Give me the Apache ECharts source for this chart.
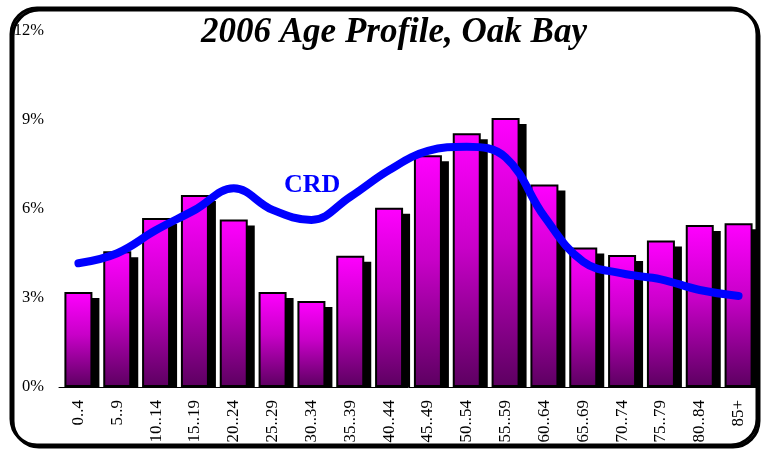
<!DOCTYPE html>
<html>
<head>
<meta charset="utf-8">
<script src="https://cdn.jsdelivr.net/npm/echarts@6/dist/echarts.min.js"></script>
<style>
  html, body { margin: 0; padding: 0; background: #fff; }
</style>
</head>
<body>
<div id="main" style="width:763px;height:451px;"></div>
<script type="text/javascript">
  // data
  var ages = ['0..4', '5..9', '10..14', '15..19', '20..24', '25..29', '30..34', '35..39', '40..44',
              '45..49', '50..54', '55..59', '60..64', '65..69', '70..74', '75..79', '80..84', '85+'];
  var oakBay = [3.20, 4.58, 5.70, 6.47, 5.65, 3.20, 2.90, 4.42, 6.04,
                7.81, 8.55, 9.07, 6.83, 4.70, 4.45, 4.94, 5.46, 5.52];
  var crd = [4.17, 4.51, 5.29, 5.97, 6.70, 5.97, 5.63, 6.41, 7.31,
             7.96, 8.10, 7.74, 5.74, 4.22, 3.83, 3.63, 3.27, 3.07];
  var yTicks = [0, 3, 6, 9, 12];

  var serif = '"Liberation Serif", "DejaVu Serif", serif';

  var myChart = echarts.init(document.getElementById('main'));

  // black drop shadow behind each bar
  function drawShadow(params, api) {
    var top = api.coord([api.value(0), api.value(1)]);
    var base = api.coord([api.value(0), 0]);
    var w = 30;
    return {
      type: 'rect',
      shape: { x: top[0] - w / 2 + 6, y: top[1] + 6, width: w, height: base[1] - top[1] - 6 },
      style: { fill: '#000' }
    };
  }

  var option = {
    animation: false,
    backgroundColor: '#fff',
    title: {
      text: '2006 Age Profile, Oak Bay',
      left: 196,
      top: 10,
      textStyle: {
        fontFamily: serif,
        fontStyle: 'italic',
        fontWeight: 'bold',
        fontSize: 35,
        color: '#000'
      }
    },
    grid: {
      left: 59,
      right: 5,
      top: 31,
      bottom: 64
    },
    xAxis: {
      type: 'category',
      data: ages,
      axisLine: { lineStyle: { color: '#000', width: 1 } },
      axisTick: { length: 5, lineStyle: { color: '#000' } },
      axisLabel: {
        rotate: 90,
        margin: 13,
        color: '#000',
        fontFamily: serif,
        fontSize: 17
      }
    },
    yAxis: {
      type: 'value',
      min: 0,
      max: 12,
      interval: 3,
      axisLine: { show: false },
      axisTick: { show: false },
      splitLine: { show: false },
      axisLabel: {
        margin: 15,
        color: '#000',
        fontFamily: serif,
        fontSize: 16.5,
        formatter: function (v) { return yTicks.indexOf(v) >= 0 ? v + '%' : ''; }
      }
    },
    graphic: [
      {
        type: 'rect',
        z: -10,
        shape: { x: 11, y: 8, width: 746, height: 437, r: 26 },
        style: {
          fill: 'transparent',
          stroke: '#000',
          lineWidth: 3,
          shadowColor: '#000',
          shadowOffsetX: 2,
          shadowOffsetY: 2,
          shadowBlur: 0
        }
      },
      {
        type: 'text',
        left: 284,
        top: 172,
        z: 100,
        style: {
          text: 'CRD',
          fill: '#0000ff',
          font: 'bold 26px ' + serif
        }
      }
    ],
    series: [
      {
        name: 'shadow',
        type: 'custom',
        z: 1,
        renderItem: drawShadow,
        encode: { x: 0, y: 1 },
        data: oakBay.map(function (v, i) { return [i, v]; })
      },
      {
        name: 'Oak Bay',
        type: 'bar',
        data: oakBay,
        barWidth: 28,
        z: 2,
        itemStyle: {
          color: new echarts.graphic.LinearGradient(0, 0, 0, 1, [
            { offset: 0, color: '#ff00ff' },
            { offset: 0.45, color: '#c800c8' },
            { offset: 1, color: '#5c0060' }
          ]),
          borderColor: '#000',
          borderWidth: 2
        }
      },
      {
        name: 'CRD',
        type: 'line',
        data: crd,
        smooth: 0.4,
        showSymbol: false,
        symbol: 'none',
        z: 5,
        lineStyle: { color: '#0000ff', width: 8, cap: 'round' }
      }
    ]
  };
  myChart.setOption(option);
</script>
</body>
</html>
